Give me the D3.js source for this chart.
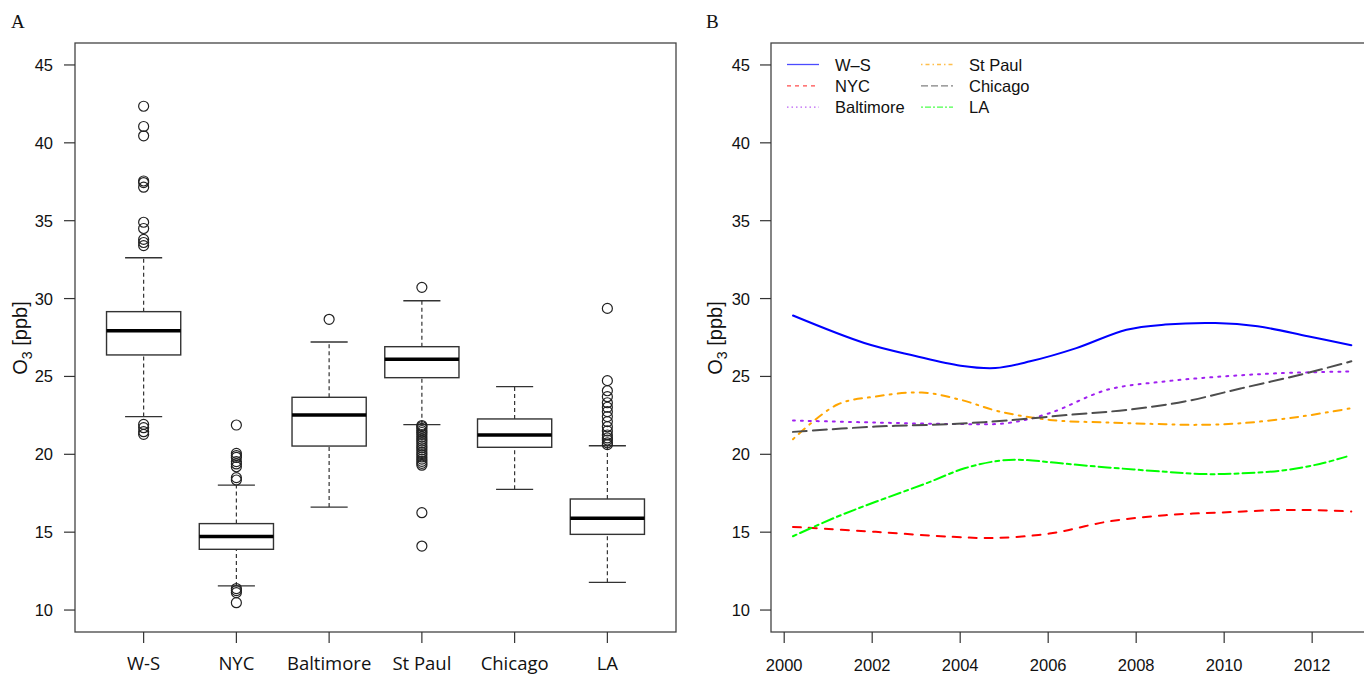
<!DOCTYPE html>
<html>
<head>
<meta charset='utf-8'>
<script src='https://d3js.org/d3.v7.min.js'></script>
<style>
  body { margin: 0; background: #fff; }
  svg { display: block; }
  .tick-lab { font-family: "Liberation Sans", Arial, sans-serif; font-size: 16.5px; fill: #111; }
  .cat-lab { font-family: "Open Sans", sans-serif; font-size: 18.5px; fill: #111; }
  .panel-lab { font-family: "Liberation Serif", "Times New Roman", serif; font-size: 19px; fill: #111; }
</style>
</head>
<body>
<div id='chart'></div>
<script>

// ---- panel A : box plots of O3 by site ----
var sites = ['W-S', 'NYC', 'Baltimore', 'St Paul', 'Chicago', 'LA'];
var legendNames = ['W\u2013S', 'NYC', 'Baltimore', 'St Paul', 'Chicago', 'LA'];
var whiskLo = [22.42, 11.55, 16.61, 21.90, 17.75, 11.78];
var q1      = [26.38, 13.90, 20.53, 24.92, 20.45, 14.86];
var median  = [27.94, 14.72, 22.52, 26.10, 21.24, 15.89];
var q3      = [29.16, 15.55, 23.66, 26.91, 22.27, 17.13];
var whiskHi = [32.62, 18.02, 27.21, 29.86, 24.34, 20.55];
var outliers = [
  [42.35, 41.05, 40.45, 37.55, 37.45, 37.15, 34.9, 34.5, 33.8, 33.6, 33.4, 21.92, 21.71, 21.45, 21.28],
  [21.88, 20.06, 19.92, 19.8, 19.53, 19.38, 19.2, 18.5, 18.35, 11.38, 11.25, 11.12, 10.47],
  [28.67],
  [30.72, 21.85, 21.78, 21.66, 21.52, 21.40, 21.27, 21.12, 20.98, 20.85, 20.71, 20.55,
   20.42, 20.28, 20.12, 19.98, 19.83, 19.69, 19.55, 19.42, 19.30, 16.25, 14.11],
  [],
  [29.37, 24.73, 24.08, 23.70, 23.31, 23.02, 22.74, 22.42, 22.10, 21.77, 21.50, 21.24, 21.05, 20.92, 20.74, 20.62]
];

// ---- panel B : smoothed trends ----
var trendYears = {
  'W-S':       [2000.2, 2001.82, 2002.96, 2004.01, 2004.8, 2005.59, 2006.64, 2007.78, 2008.66, 2009.8, 2010.76, 2011.9, 2012.89],
  'NYC':       [2000.2, 2002.08, 2003.83, 2004.8, 2006.03, 2007.34, 2008.66, 2009.97, 2011.29, 2011.99, 2012.89],
  'Baltimore': [2000.2, 2002.08, 2003.83, 2005.06, 2006.03, 2007.34, 2008.66, 2009.97, 2011.29, 2012.89],
  'St Paul':   [2000.2, 2001.2, 2002.08, 2003.13, 2004.01, 2004.89, 2006.03, 2007.34, 2008.66, 2009.36, 2010.41, 2011.73, 2012.89],
  'Chicago':   [2000.2, 2002.08, 2003.83, 2005.06, 2006.46, 2007.78, 2009.1, 2010.41, 2011.73, 2012.89],
  'LA':        [2000.2, 2001.2, 2002.08, 2003.22, 2004.1, 2004.89, 2005.41, 2006.29, 2007.34, 2008.66, 2009.54, 2010.41, 2011.29, 2012.17, 2012.78]
};
var trendO3 = {
  'W-S':       [28.91, 27.15, 26.33, 25.69, 25.54, 25.97, 26.82, 28.0, 28.33, 28.43, 28.22, 27.58, 27.0],
  'NYC':       [15.34, 15.02, 14.70, 14.63, 14.91, 15.67, 16.09, 16.27, 16.42, 16.42, 16.33],
  'Baltimore': [22.17, 22.04, 21.95, 22.0, 22.64, 24.14, 24.68, 25.0, 25.21, 25.32],
  'St Paul':   [20.97, 23.18, 23.71, 23.97, 23.5, 22.75, 22.21, 22.04, 21.93, 21.89, 22.0, 22.42, 22.96],
  'Chicago':   [21.44, 21.78, 21.95, 22.17, 22.53, 22.85, 23.39, 24.25, 25.11, 25.97],
  'LA':        [14.74, 15.99, 16.95, 18.13, 19.10, 19.59, 19.64, 19.42, 19.16, 18.88, 18.73, 18.78, 18.95, 19.38, 19.85]
};
var lineColors = ['#0000ff', '#ff0000', '#a020f0', '#ffa500', '#4d4d4d', '#00ff00'];
var dashBig   = ['none', '8,8', '2,6', '2,6,8,6', '14,6', '4,4,12,4'];
var dashSmall = ['none', '4,4', '1.5,3', '1.5,3,4,3', '7,3', '2,2,6,2'];

var yTicks = [10, 15, 20, 25, 30, 35, 40, 45];
var yearTicks = [2000, 2002, 2004, 2006, 2008, 2010, 2012];

var W = 1364, H = 675;
var plotTop = 43, plotBottom = 632;
var svg = d3.select('#chart').append('svg').attr('width', W).attr('height', H);

var y = d3.scaleLinear().domain([8.59, 46.41]).range([plotBottom, plotTop]);

function yAxis(g, x0, labX) {
  g.selectAll('line.yt').data(yTicks).enter().append('line')
    .attr('x1', x0 - 11).attr('x2', x0)
    .attr('y1', d => y(d)).attr('y2', d => y(d))
    .attr('stroke', '#333').attr('stroke-width', 1.2);
  g.selectAll('text.yt').data(yTicks).enter().append('text')
    .attr('class', 'tick-lab')
    .attr('x', labX).attr('y', d => y(d) + 6)
    .attr('text-anchor', 'end').text(d => d);
}

function yTitle(g, cx) {
  var t = g.append('text').attr('class', 'tick-lab')
    .attr('transform', 'translate(' + cx + ',' + 338 + ') rotate(-90)')
    .attr('text-anchor', 'middle').style('font-size', '20px');
  t.append('tspan').text('O');
  t.append('tspan').attr('dy', 5).style('font-size', '14px').text('3');
  t.append('tspan').attr('dy', -5).text(' [ppb]');
}

// ================= panel A =================
var A = svg.append('g');
var xA = d3.scaleLinear().domain([0.26, 6.74]).range([75, 676]);

A.append('rect').attr('x', 75).attr('y', plotTop)
  .attr('width', 676 - 75).attr('height', plotBottom - plotTop)
  .attr('fill', 'none').attr('stroke', '#444').attr('stroke-width', 1.3);
yAxis(A, 75, 53);
yTitle(A, 27);
A.append('text').attr('class', 'panel-lab').attr('x', 11).attr('y', 28).text('A');

sites.forEach(function(s, i) {
  var cx = xA(i + 1);
  var hw = xA(1.4) - xA(1);
  var cw = xA(1.2) - xA(1);
  var g = A.append('g');
  // whiskers
  [[whiskLo[i], q1[i]], [q3[i], whiskHi[i]]].forEach(function(p) {
    g.append('line').attr('x1', cx).attr('x2', cx)
      .attr('y1', y(p[0])).attr('y2', y(p[1]))
      .attr('stroke', '#333').attr('stroke-width', 1.2).attr('stroke-dasharray', '4,3');
  });
  [whiskLo[i], whiskHi[i]].forEach(function(v) {
    g.append('line').attr('x1', cx - cw).attr('x2', cx + cw)
      .attr('y1', y(v)).attr('y2', y(v))
      .attr('stroke', '#333').attr('stroke-width', 1.3);
  });
  g.append('rect').attr('x', cx - hw).attr('width', 2 * hw)
    .attr('y', y(q3[i])).attr('height', y(q1[i]) - y(q3[i]))
    .attr('fill', '#fff').attr('stroke', '#333').attr('stroke-width', 1.4);
  g.append('line').attr('x1', cx - hw).attr('x2', cx + hw)
    .attr('y1', y(median[i])).attr('y2', y(median[i]))
    .attr('stroke', '#000').attr('stroke-width', 3.5);
  g.selectAll('circle').data(outliers[i]).enter().append('circle')
    .attr('cx', cx).attr('cy', d => y(d)).attr('r', 5)
    .attr('fill', 'none').attr('stroke', '#222').attr('stroke-width', 1.2);
  // x tick + label
  A.append('line').attr('x1', cx).attr('x2', cx).attr('y1', plotBottom).attr('y2', plotBottom + 11)
    .attr('stroke', '#333').attr('stroke-width', 1.2);
  A.append('text').attr('class', 'cat-lab').attr('x', cx).attr('y', 669.5)
    .attr('text-anchor', 'middle').text(s);
});

// ================= panel B =================
var B = svg.append('g');
var xB = d3.scaleLinear().domain([1999.7, 2013.41]).range([771, 1374.2]);

B.append('rect').attr('x', 771).attr('y', plotTop)
  .attr('width', 1374.2 - 771).attr('height', plotBottom - plotTop)
  .attr('fill', 'none').attr('stroke', '#444').attr('stroke-width', 1.3);
yAxis(B, 771, 750);
yTitle(B, 722);
B.append('text').attr('class', 'panel-lab').attr('x', 706).attr('y', 28).text('B');

B.selectAll('line.xt').data(yearTicks).enter().append('line')
  .attr('x1', d => xB(d)).attr('x2', d => xB(d))
  .attr('y1', plotBottom).attr('y2', plotBottom + 11)
  .attr('stroke', '#333').attr('stroke-width', 1.2);
B.selectAll('text.xt').data(yearTicks).enter().append('text')
  .attr('class', 'tick-lab').attr('x', d => xB(d)).attr('y', 671)
  .attr('text-anchor', 'middle').text(d => d);

var line = d3.line().curve(d3.curveCatmullRom.alpha(0.5))
  .x(d => xB(d[0])).y(d => y(d[1]));

sites.forEach(function(s, i) {
  var pts = d3.zip(trendYears[s], trendO3[s]);
  B.append('path').attr('d', line(pts))
    .attr('fill', 'none').attr('stroke', lineColors[i]).attr('stroke-width', 2)
    .attr('stroke-linecap', 'round')
    .attr('stroke-dasharray', dashBig[i]);
});

// legend, two columns of three
legendNames.forEach(function(s, i) {
  var col = Math.floor(i / 3), row = i % 3;
  var lx = 787 + col * 134, ly = 64.5 + row * 21.3;
  B.append('line').attr('x1', lx).attr('x2', lx + 32).attr('y1', ly).attr('y2', ly)
    .attr('stroke', lineColors[i]).attr('stroke-width', 1.3).attr('opacity', 0.7)
    .attr('stroke-dasharray', dashSmall[i]);
  B.append('text').attr('class', 'tick-lab').attr('x', lx + 48).attr('y', ly + 6).text(s);
});

</script>
</body>
</html>
